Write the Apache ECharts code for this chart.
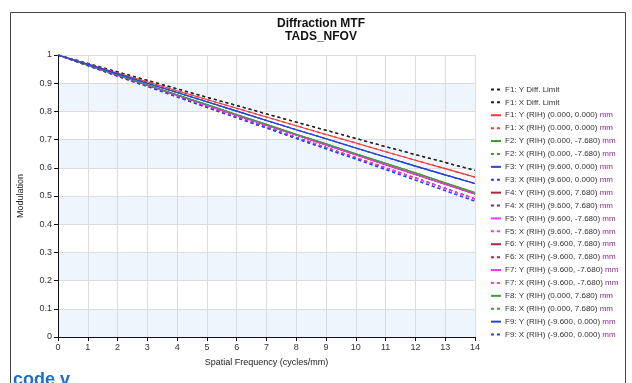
<!DOCTYPE html>
<html>
<head>
<meta charset="utf-8">
<script src="https://cdn.jsdelivr.net/npm/echarts@6/dist/echarts.min.js"></script>
<style>
  html, body { margin: 0; padding: 0; background: #fff; }
  #chart { width: 632px; height: 383px; }
</style>
</head>
<body>
<div id="chart"></div>
<script>
// spatial frequency samples (cycles/mm)
const freq = [0, 1, 2, 3, 4, 5, 6, 7, 8, 9, 10, 11, 12, 13, 14];

// modulation curves
const diffLimit = [1, 0.970, 0.940, 0.910, 0.880, 0.850, 0.821, 0.791, 0.762, 0.733, 0.704, 0.675, 0.647, 0.619, 0.591];
const f1Axis = [1, 0.968, 0.936, 0.905, 0.873, 0.842, 0.811, 0.780, 0.749, 0.718, 0.688, 0.657, 0.627, 0.597, 0.567];
const edgeHigh = [1, 0.967, 0.933, 0.900, 0.867, 0.834, 0.801, 0.768, 0.735, 0.703, 0.670, 0.638, 0.606, 0.575, 0.544];
const edgeYLow = [1, 0.964, 0.929, 0.894, 0.859, 0.824, 0.789, 0.754, 0.719, 0.685, 0.650, 0.616, 0.582, 0.547, 0.512];
const cornerY = [1, 0.964, 0.928, 0.893, 0.857, 0.822, 0.786, 0.751, 0.716, 0.681, 0.646, 0.611, 0.576, 0.542, 0.507];
const cornerX = [1, 0.963, 0.926, 0.890, 0.853, 0.817, 0.781, 0.745, 0.708, 0.672, 0.636, 0.600, 0.564, 0.527, 0.490];
const sideX = [1, 0.962, 0.925, 0.888, 0.851, 0.814, 0.777, 0.741, 0.704, 0.667, 0.631, 0.594, 0.556, 0.519, 0.482];

// legend order: [name, colour, dashed, values]
const curves = [
  ['F1: Y Diff. Limit', '#222222', true, diffLimit],
  ['F1: X Diff. Limit', '#222222', true, diffLimit],
  ['F1: Y (RIH) (0.000, 0.000) mm', '#f23a3a', false, f1Axis],
  ['F1: X (RIH) (0.000, 0.000) mm', '#f23a3a', true, f1Axis],
  ['F2: Y (RIH) (0.000, -7.680) mm', '#3c9c3c', false, edgeYLow],
  ['F2: X (RIH) (0.000, -7.680) mm', '#3c9c3c', true, edgeHigh],
  ['F3: Y (RIH) (9.600, 0.000) mm', '#2a3cf0', false, edgeHigh],
  ['F3: X (RIH) (9.600, 0.000) mm', '#2a3cf0', true, sideX],
  ['F4: Y (RIH) (9.600, 7.680) mm', '#a5283c', false, cornerY],
  ['F4: X (RIH) (9.600, 7.680) mm', '#a5283c', true, cornerX],
  ['F5: Y (RIH) (9.600, -7.680) mm', '#f23af0', false, cornerY],
  ['F5: X (RIH) (9.600, -7.680) mm', '#f23af0', true, cornerX],
  ['F6: Y (RIH) (-9.600, 7.680) mm', '#a5283c', false, cornerY],
  ['F6: X (RIH) (-9.600, 7.680) mm', '#a5283c', true, cornerX],
  ['F7: Y (RIH) (-9.600, -7.680) mm', '#f23af0', false, cornerY],
  ['F7: X (RIH) (-9.600, -7.680) mm', '#f23af0', true, cornerX],
  ['F8: Y (RIH) (0.000, 7.680) mm', '#3c9c3c', false, edgeYLow],
  ['F8: X (RIH) (0.000, 7.680) mm', '#3c9c3c', true, edgeHigh],
  ['F9: Y (RIH) (-9.600, 0.000) mm', '#2a3cf0', false, edgeHigh],
  ['F9: X (RIH) (-9.600, 0.000) mm', '#2a3cf0', true, sideX],
];

const font = 'Liberation Sans, Arial, sans-serif';
const chart = echarts.init(document.getElementById('chart'), null, { renderer: 'canvas' });

const option = {
  animation: false,
  title: {
    text: 'Diffraction MTF\nTADS_NFOV',
    left: 316,
    textAlign: 'center',
    top: 12,
    textStyle: { fontFamily: font, fontSize: 12, fontWeight: 'bold', color: '#111', lineHeight: 13 },
  },
  graphic: [
    {
      type: 'rect',
      shape: { x: 10.5, y: 12.5, width: 615, height: 400 },
      style: { fill: 'none', stroke: '#444', lineWidth: 1 },
      silent: true,
    },
    {
      type: 'text',
      left: 13,
      top: 371,
      style: { text: 'code v', fill: '#1f6fc4', font: 'bold 18px ' + font },
    },
  ],
  legend: {
    orient: 'vertical',
    left: 490,
    top: 83,
    padding: 0,
    itemGap: 0,
    itemWidth: 10,
    itemHeight: 8,
    itemStyle: { opacity: 0 },
    textStyle: {
      fontFamily: font,
      fontSize: 8,
      color: '#333',
      lineHeight: 12.9,
      padding: [0, 0, 0, -1],
      rich: { mm: { fontFamily: font, fontSize: 8, color: '#8a2a8a', lineHeight: 12.9 } },
    },
    formatter: (name) => (name.endsWith(' mm') ? name.slice(0, -3) + ' {mm|mm}' : name),
    data: curves.map((c) => c[0]),
  },
  grid: { left: 58, right: 157, top: 55, bottom: 46 },
  xAxis: {
    type: 'value',
    min: 0,
    max: 14,
    interval: 1,
    name: 'Spatial Frequency (cycles/mm)',
    nameLocation: 'middle',
    nameGap: 21,
    nameTextStyle: { fontFamily: font, fontSize: 9, color: '#222' },
    axisLine: { lineStyle: { color: '#111', width: 1 } },
    axisTick: { show: true, length: 4, lineStyle: { color: '#111' } },
    axisLabel: { fontFamily: font, fontSize: 9, color: '#333', margin: 6 },
    splitLine: { show: true, lineStyle: { color: '#dcdcdc' } },
  },
  yAxis: {
    type: 'value',
    min: 0,
    max: 1,
    interval: 0.1,
    name: 'Modulation',
    nameLocation: 'middle',
    nameGap: 33,
    nameTextStyle: { fontFamily: font, fontSize: 9, color: '#222' },
    axisLine: { show: true, lineStyle: { color: '#111', width: 1 } },
    axisTick: { show: true, length: 4, lineStyle: { color: '#111' } },
    axisLabel: { fontFamily: font, fontSize: 9, color: '#333', margin: 6 },
    splitLine: { show: true, lineStyle: { color: '#dcdcdc' } },
    splitArea: { show: true, areaStyle: { color: ['#eef5fd', '#ffffff'] } },
  },
  series: curves.map(([name, color, dashed, values]) => ({
    name,
    type: 'line',
    symbol: 'none',
    showSymbol: false,
    data: freq.map((f, i) => [f, values[i]]),
    lineStyle: { color, width: dashed ? 1.3 : 1.1, type: dashed ? [3, 3] : 'solid' },
    itemStyle: { color },
  })),
};

chart.setOption(option);
</script>
</body>
</html>
